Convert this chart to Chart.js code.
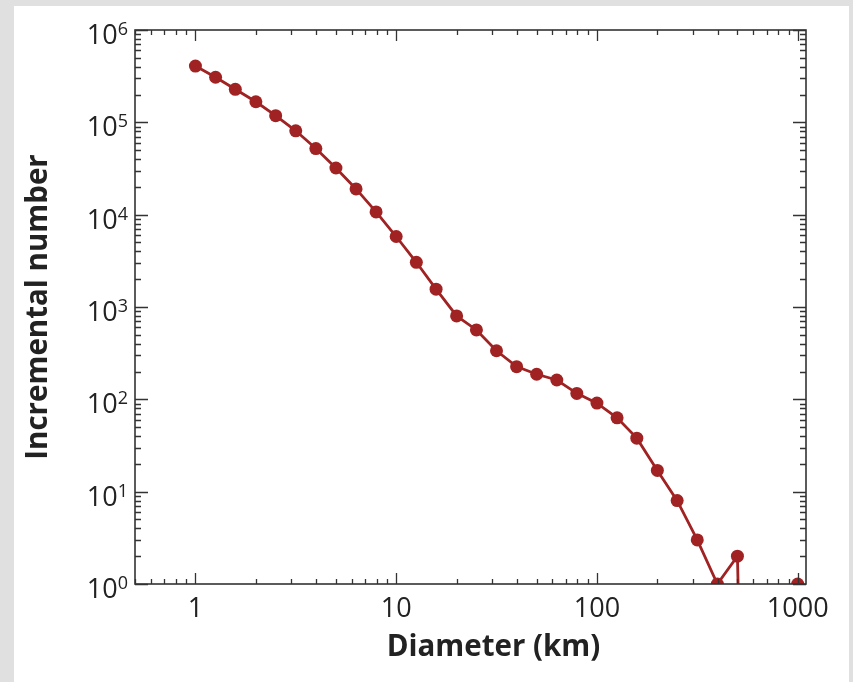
<!DOCTYPE html>
<html>
<head>
<meta charset="utf-8">
<script src="https://cdn.jsdelivr.net/npm/chart.js@4.4.1/dist/chart.umd.min.js"></script>
<style>
  html, body { margin: 0; padding: 0; width: 853px; height: 682px; overflow: hidden; background: #e0e0e0; }
  #panel { position: absolute; left: 14px; top: 6px; width: 835px; height: 676px; background: #fff; }
  #wrap { position: absolute; left: 0; top: 0; width: 853px; height: 682px; }
</style>
</head>
<body>
<div id="panel"></div>
<div id="wrap"><canvas id="chart" width="853" height="682"></canvas></div>
<script>
// diameter bins (km)
const diameters = [
  1, 1.26, 1.58, 2, 2.51, 3.16, 3.98, 5.01, 6.31, 7.94,
  10, 12.6, 15.8, 20, 25.1, 31.6, 39.8, 50.1, 63.1, 79.4,
  100, 126, 158, 200, 251, 316, 398, 501, 631, 794, 1000
];
// incremental number per bin (0 = empty bin)
const counts = [
  407000, 308000, 228000, 167000, 118000, 81000, 52000, 32000, 19000, 10700,
  5800, 3050, 1560, 800, 564, 336, 226, 187, 162, 116,
  91, 63, 38, 17, 8, 3, 1, 2, 0, 0, 1
];

const xMajorTicks = [1, 10, 100, 1000];
const xTickLabels = ["1", "10", "100", "1000"];
const yExponents = [0, 1, 2, 3, 4, 5, 6];

const lineColor = "#a02222";
const axisColor = "#333";
const textColor = "#222";
const fontFam = '"Open Sans", "Noto Sans", sans-serif';

// empty bins fall off the bottom of a log axis, like the original plot
const points = diameters.map((d, i) => ({ x: d, y: counts[i] > 0 ? counts[i] : 1e-9 }));

function minorTicks(lo, hi) {
  const out = [];
  for (let p = Math.floor(Math.log10(lo)); p <= Math.ceil(Math.log10(hi)); p++) {
    for (let m = 1; m <= 9; m++) {
      const v = m * Math.pow(10, p);
      if (v >= lo && v <= hi) out.push({ v, major: m === 1 });
    }
  }
  return out;
}

const axesPlugin = {
  id: "axesPlugin",
  afterDatasetsDraw(chart) {
    const { ctx, chartArea: a, scales } = chart;
    const xs = scales.x, ys = scales.y;
    ctx.save();

    // ticks, inside on all four sides
    ctx.strokeStyle = axisColor;
    ctx.lineWidth = 1.3;
    ctx.beginPath();
    minorTicks(xs.min, xs.max).forEach(t => {
      const px = Math.round(xs.getPixelForValue(t.v)) + 0.5;
      const len = t.major ? 11 : 5;
      ctx.moveTo(px, a.bottom); ctx.lineTo(px, a.bottom - len);
      ctx.moveTo(px, a.top); ctx.lineTo(px, a.top + len);
    });
    minorTicks(ys.min, ys.max).forEach(t => {
      const py = Math.round(ys.getPixelForValue(t.v)) + 0.5;
      const len = t.major ? 13 : 6;
      ctx.moveTo(a.left, py); ctx.lineTo(a.left + len, py);
      ctx.moveTo(a.right, py); ctx.lineTo(a.right - len, py);
    });
    ctx.stroke();

    // frame
    ctx.lineWidth = 1.6;
    ctx.strokeRect(a.left, a.top, a.right - a.left, a.bottom - a.top);

    // x tick labels
    ctx.fillStyle = textColor;
    ctx.font = "27px " + fontFam;
    ctx.textAlign = "center";
    ctx.textBaseline = "alphabetic";
    xMajorTicks.forEach((v, i) => {
      ctx.fillText(xTickLabels[i], xs.getPixelForValue(v), a.bottom + 33);
    });

    // y tick labels 10^n
    ctx.textAlign = "left";
    yExponents.forEach(e => {
      const py = ys.getPixelForValue(Math.pow(10, e));
      ctx.font = "18px " + fontFam;
      const sup = String(e);
      const ws = ctx.measureText(sup).width;
      ctx.font = "27px " + fontFam;
      const wb = ctx.measureText("10").width;
      const right = a.left - 7;
      ctx.fillText("10", right - ws - wb, py + 14);
      ctx.font = "18px " + fontFam;
      ctx.fillText(sup, right - ws, py + 5);
    });

    // axis titles
    ctx.font = "bold 29.5px " + fontFam;
    ctx.textAlign = "center";
    ctx.fillText("Diameter (km)", (a.left + a.right) / 2 + 23, a.bottom + 72);
    ctx.translate(47, (a.top + a.bottom) / 2);
    ctx.rotate(-Math.PI / 2);
    ctx.fillText("Incremental number", 0, 0);

    ctx.restore();
  }
};

new Chart(document.getElementById("chart").getContext("2d"), {
  type: "line",
  data: {
    datasets: [{
      data: points,
      borderColor: lineColor,
      backgroundColor: lineColor,
      borderWidth: 2.8,
      pointRadius: 6.5,
      pointBorderWidth: 0,
      pointBackgroundColor: lineColor,
      tension: 0,
    }],
  },
  options: {
    responsive: false,
    animation: false,
    events: [],
    layout: { padding: { left: 135, top: 30, right: 47, bottom: 98 } },
    plugins: { legend: { display: false }, tooltip: { enabled: false } },
    scales: {
      x: { type: "logarithmic", min: 0.5, max: 1100, display: false },
      y: { type: "logarithmic", min: 1, max: 1e6, display: false },
    },
  },
  plugins: [axesPlugin],
});
</script>
</body>
</html>
